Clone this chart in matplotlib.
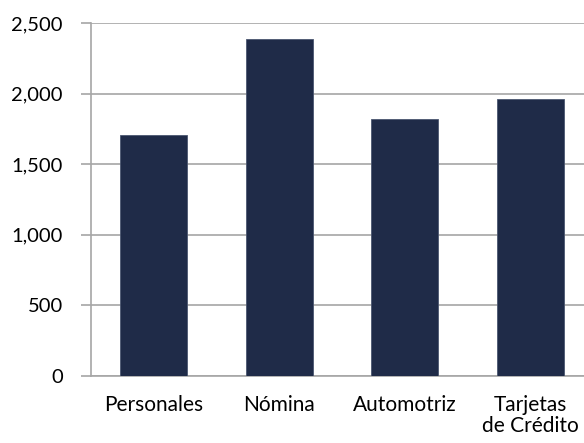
import matplotlib
matplotlib.use("Agg")
import matplotlib.pyplot as plt

categories = ["Personales", "Nómina", "Automotriz", "Tarjetas\nde Crédito"]
values = [1710, 2390, 1820, 1960]
yticks = [0, 500, 1000, 1500, 2000, 2500]

plt.rcParams["font.family"] = ["Lato", "DejaVu Sans"]

W, H = 584, 443
fig = plt.figure(figsize=(W / 100, H / 100), dpi=100)
ax = fig.add_axes([90.6 / W, 67 / H, 502.8 / W, 353 / H])

bar_color = "#1f2b48"
ax.bar(range(len(categories)), values, width=0.535, color=bar_color,
       edgecolor="#4a5670", linewidth=0.6, zorder=3)

ax.set_xlim(-0.5, len(categories) - 0.5)
ax.set_ylim(0, 2500)
ax.set_yticks(yticks)
ax.set_yticklabels([f"{v:,}" for v in yticks])
ax.set_xticks(range(len(categories)))
ax.set_xticklabels(categories, linespacing=1.05)

grid_color = "#a6a6a6"
ax.yaxis.grid(True, color=grid_color, linewidth=1.2, zorder=0)
for side in ("top", "right"):
    ax.spines[side].set_visible(False)
for side in ("left", "bottom"):
    ax.spines[side].set_color(grid_color)
    ax.spines[side].set_linewidth(1.2)

ax.tick_params(axis="y", length=7, width=1.2, color=grid_color,
               labelsize=14.5, pad=13, labelcolor="black")
ax.tick_params(axis="x", length=0, labelsize=15, pad=14, labelcolor="black")

fig.savefig("out.png", dpi=100)
